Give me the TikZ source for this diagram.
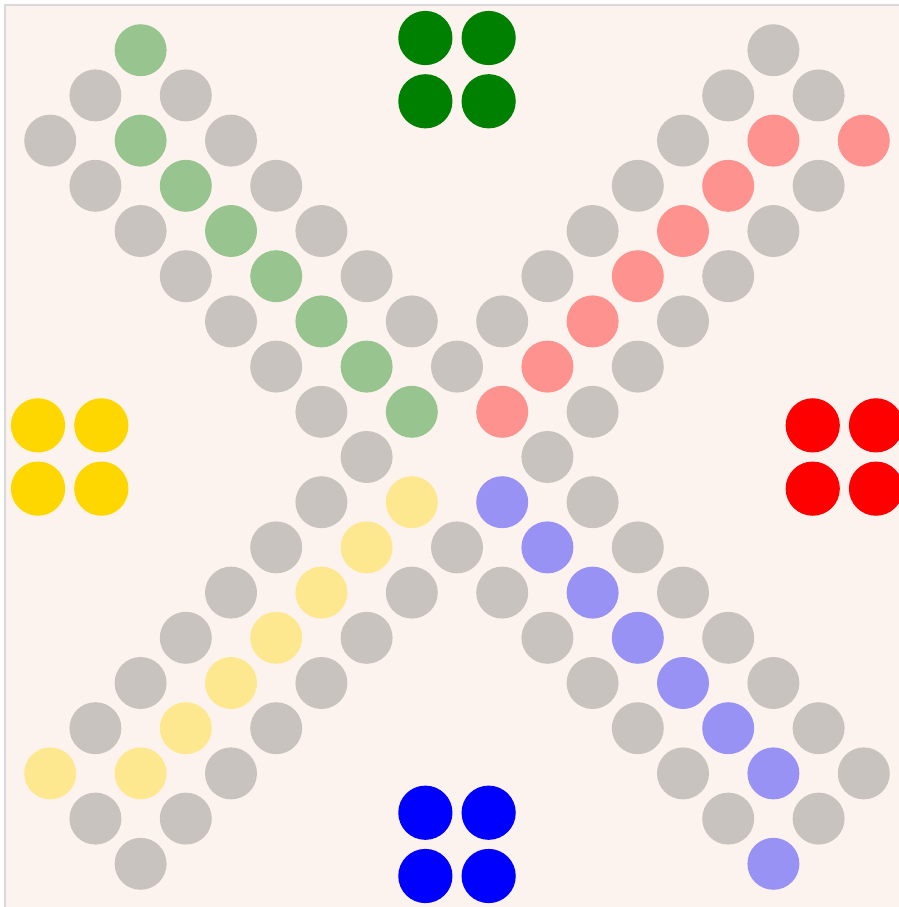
\documentclass[tikz,border=0pt]{standalone}
\usepackage{tikz}
\definecolor{boardbg}{RGB}{253,243,238}
\definecolor{holegray}{RGB}{201,195,192}
\definecolor{pgreen}{RGB}{0,128,0}
\definecolor{pyellow}{RGB}{255,215,0}
\definecolor{pred}{RGB}{255,0,0}
\definecolor{pblue}{RGB}{0,0,255}
\tikzset{
  hole/.style  = {fill=holegray},
  lane/.style  = {fill=#1!40!boardbg},
  pawn/.style  = {fill=#1},
}
\begin{document}
\begin{tikzpicture}[x=0.904cm,y=-0.904cm]
  \useasboundingbox (-1.111,-1.111) rectangle (18.757,18.956);
  \fill[white] (-1.111,-1.111) rectangle (18.757,18.956);
  \filldraw[fill=boardbg,draw=black!15,line width=0.6pt] (-1,-1) rectangle (19.5,19.5);
  % track holes
  \foreach \i/\j in {16/0, 1/1, 3/1, 15/1, 17/1, 0/2, 4/2, 14/2, 1/3, 5/3, 13/3, 17/3,
      2/4, 6/4, 12/4, 16/4, 3/5, 7/5, 11/5, 15/5, 4/6, 8/6, 10/6, 14/6,
      5/7, 9/7, 13/7, 6/8, 12/8, 7/9, 11/9, 6/10, 12/10, 5/11, 9/11, 13/11,
      4/12, 8/12, 10/12, 14/12, 3/13, 7/13, 11/13, 15/13, 2/14, 6/14, 12/14, 16/14,
      1/15, 5/15, 13/15, 17/15, 4/16, 14/16, 18/16, 1/17, 3/17, 15/17, 17/17, 2/18}
    \fill[hole] (\i,\j) circle (0.575);
  % coloured lanes
  \foreach \i/\j in {2/0, 2/2, 3/3, 4/4, 5/5, 6/6, 7/7, 8/8}
    \fill[lane=pgreen] (\i,\j) circle (0.575);
  \foreach \i/\j in {16/2, 18/2, 15/3, 14/4, 13/5, 12/6, 11/7, 10/8}
    \fill[lane=pred] (\i,\j) circle (0.575);
  \foreach \i/\j in {10/10, 11/11, 12/12, 13/13, 14/14, 15/15, 16/16, 16/18}
    \fill[lane=pblue] (\i,\j) circle (0.575);
  \foreach \i/\j in {8/10, 7/11, 6/12, 5/13, 4/14, 3/15, 2/16, 0/16}
    \fill[lane=pyellow] (\i,\j) circle (0.575);
  % home pawns
  \foreach \cx/\cy/\col in {9/0.43/pgreen, 0.43/9/pyellow, 17.57/9/pred, 9/17.57/pblue}
    \foreach \dx in {-0.7,0.7}
      \foreach \dy in {-0.7,0.7}
        \fill[pawn=\col] (\cx+\dx,\cy+\dy) circle (0.6);
\end{tikzpicture}
\end{document}
